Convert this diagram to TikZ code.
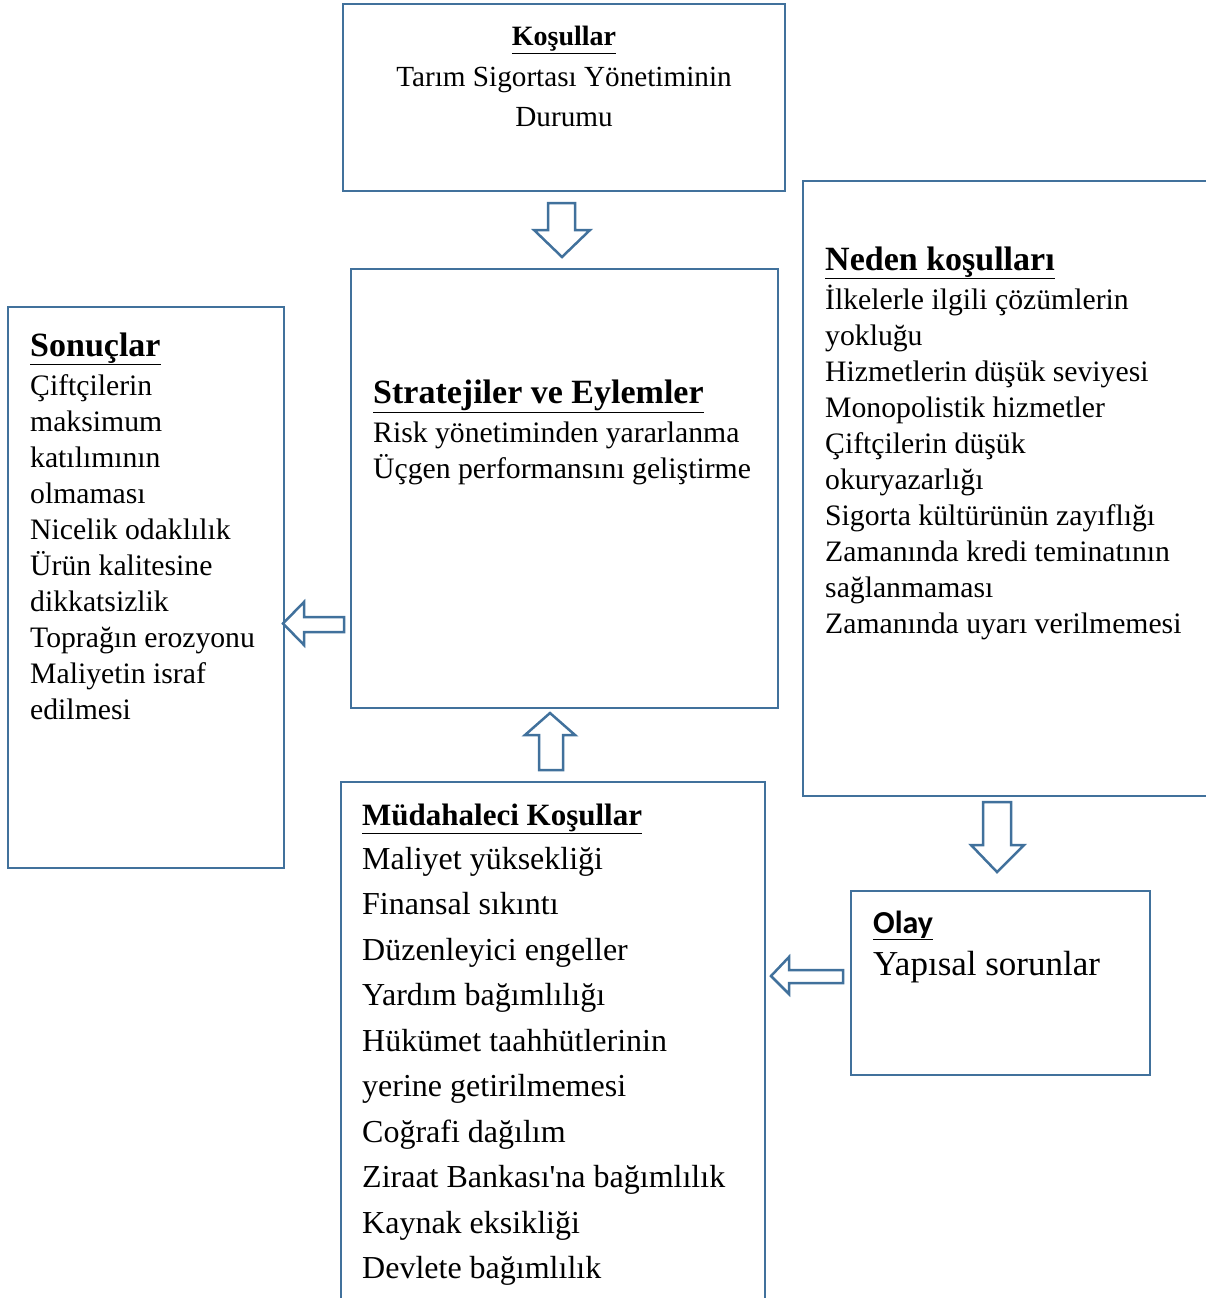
\documentclass[tikz,border=0pt]{standalone}
\usepackage{fontspec}
\setmainfont{Liberation Serif}
\newfontfamily\olaysans{Carlito}
\definecolor{boxblue}{RGB}{65,113,156}
\begin{document}
\begin{tikzpicture}[x=1pt,y=-1pt,
  box/.style={draw=boxblue,line width=2.5pt,inner sep=0pt,outer sep=0pt},
  barrow/.style={draw=boxblue,line width=2.5pt,fill=white,line join=miter},
  body/.style={anchor=base west,inner sep=0pt,font=\fontsize{29.7}{30}\selectfont},
  bodyc/.style={anchor=base,inner sep=0pt,font=\fontsize{29.2}{30}\selectfont},
  bodyl/.style={anchor=base west,inner sep=0pt,font=\fontsize{32}{34}\selectfont},
  head/.style={anchor=base west,inner sep=0pt,font=\fontsize{34}{36}\selectfont\bfseries},
  headc/.style={anchor=base,inner sep=0pt,font=\fontsize{28}{30}\selectfont\bfseries},
  headm/.style={anchor=base west,inner sep=0pt,font=\fontsize{31}{33}\selectfont\bfseries}]
\useasboundingbox (0,0) rectangle (1206,1298);

% boxes
\node[box,minimum width=442pt,minimum height=187pt] (kosul) at (564,97.5) {};
\node[box,minimum width=427pt,minimum height=439pt] (strat) at (564.5,488.5) {};
\node[box,minimum width=276pt,minimum height=561pt] (sonuc) at (146,587.5) {};
\node[box,minimum width=420pt,minimum height=615pt] (neden) at (1013,488.5) {};
\node[box,minimum width=424pt,minimum height=530pt] (mudah) at (553,1047) {};
\node[box,minimum width=299pt,minimum height=184pt] (olay) at (1000.5,983) {};

% block arrows
\draw[barrow] (548,203) -- (575,203) -- (575,230) -- (590,230) -- (562,257) -- (534,230) -- (548,230) -- cycle;
\draw[barrow] (344,617) -- (304,617) -- (304,602) -- (283,623.5) -- (304,645) -- (304,632) -- (344,632) -- cycle;
\draw[barrow] (843,970) -- (789,970) -- (789,957) -- (771,976) -- (789,994) -- (789,983) -- (843,983) -- cycle;
\draw[barrow] (983,802) -- (1011,802) -- (1011,845) -- (1024,845) -- (997,872) -- (971,845) -- (983,845) -- cycle;
\draw[barrow] (539,770) -- (563,770) -- (563,735) -- (575,735) -- (550,713) -- (525,735) -- (539,735) -- cycle;

% Kosullar
\node[headc] (kosul-h) at (564,46) {\underline{Koşullar}};
\node[bodyc] (kosul-1) at (564,86) {Tarım Sigortası Yönetiminin};
\node[bodyc] (kosul-2) at (564,126) {Durumu};

% Stratejiler
\node[head] (strat-h) at (373,403) {\underline{Stratejiler ve Eylemler}};
\node[body] (strat-1) at (373,442) {Risk yönetiminden yararlanma};
\node[body] (strat-2) at (373,478) {Üçgen performansını geliştirme};

% Sonuclar
\node[head] (sonuc-h) at (30,356) {\underline{Sonuçlar}};
\foreach \t [count=\i] in {Çiftçilerin,maksimum,katılımının,olmaması,Nicelik odaklılık,Ürün kalitesine,dikkatsizlik,Toprağın erozyonu,Maliyetin israf,edilmesi}
  \node[body] (sonuc-\i) at (30,{395+36*(\i-1)}) {\t};

% Neden
\node[head] (neden-h) at (825,270) {\underline{Neden koşulları}};
\foreach \t [count=\i] in {İlkelerle ilgili çözümlerin,yokluğu,Hizmetlerin düşük seviyesi,Monopolistik hizmetler,Çiftçilerin düşük,okuryazarlığı,Sigorta kültürünün zayıflığı,Zamanında kredi teminatının,sağlanmaması,Zamanında uyarı verilmemesi}
  \node[body] (neden-\i) at (825,{309+36*(\i-1)}) {\t};

% Mudahaleci
\node[headm] (mudah-h) at (362,825) {\underline{Müdahaleci Koşullar}};
\foreach \t [count=\i] in {Maliyet yüksekliği,Finansal sıkıntı,Düzenleyici engeller,Yardım bağımlılığı,Hükümet taahhütlerinin,yerine getirilmemesi,Coğrafi dağılım,Ziraat Bankası\textquotesingle na bağımlılık,Kaynak eksikliği,Devlete bağımlılık}
  \node[bodyl] (mudah-\i) at (362,{869+45.55*(\i-1)}) {\t};

% Olay
\node[anchor=base west,inner sep=0pt,font=\fontsize{32}{34}\selectfont\olaysans\bfseries] (olay-h) at (873,933) {\underline{Olay}};
\node[anchor=base west,inner sep=0pt,font=\fontsize{35}{37}\selectfont] (olay-1) at (873,975) {Yapısal sorunlar};
\end{tikzpicture}
\end{document}
